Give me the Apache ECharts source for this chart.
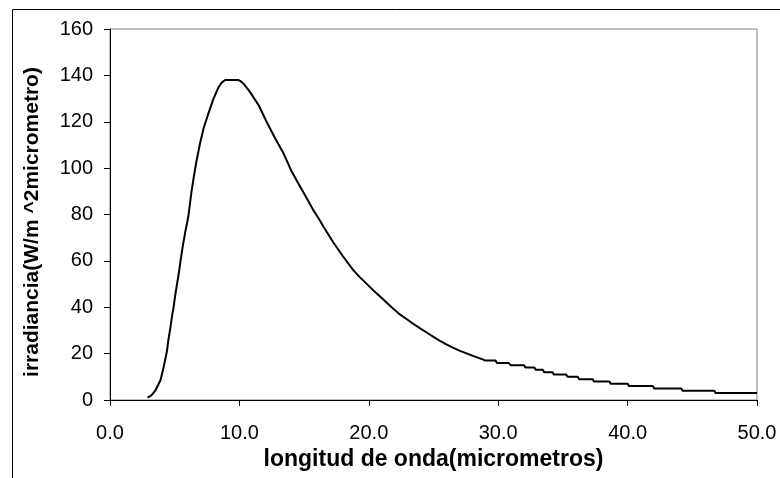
<!DOCTYPE html>
<html>
<head>
<meta charset="utf-8">
<script src="https://cdn.jsdelivr.net/npm/echarts@6/dist/echarts.min.js"></script>
<style>
  html, body { margin: 0; padding: 0; background: #fff; }
  #chart { width: 780px; height: 478px; }
</style>
</head>
<body>
<div id="chart"></div>
<script>
// Wavelength (micrometres) and spectral irradiance (W/m^2 per micrometre)
var wavelength = [
  2.9, 3.2, 3.5, 3.9, 4.1, 4.25, 4.4, 4.5, 4.65, 4.8, 4.9, 5.05, 5.15, 5.3, 5.45, 5.6, 5.8,
  6.05, 6.3, 6.5, 6.65, 6.95, 7.25, 7.6, 8.0, 8.4, 8.65, 8.9, 9.9, 10.1, 10.3, 10.8, 11.5, 12.1, 12.75,
  13.4, 14.0, 14.7, 15.3, 15.7, 16.1, 16.5, 17.3, 18.0, 18.8, 19.3, 19.8, 20.4, 21.0, 21.7,
  22.4, 23.0, 23.4, 24.0, 24.5, 25.0, 25.5, 26.0, 26.5, 27.0, 27.6, 28.2, 28.8,
  29.0, 29.8, 29.9, 30.8, 30.95, 32.0, 32.1, 32.8, 32.9, 33.45, 33.55, 34.2, 34.3,
  35.25, 35.35, 36.15, 36.25, 37.3, 37.4, 38.6, 38.7, 40.0, 40.1, 41.95, 42.05,
  44.15, 44.25, 46.7, 46.8, 50.0
];
var irradiance = [
  1, 2, 4, 8.5, 13, 17, 21, 25.5, 30.5, 36.5, 39.5, 45.5, 49, 54, 60, 65.5, 72,
  79, 90, 97, 102, 110.5, 117.5, 123.5, 130, 135, 137, 138, 138, 137.5, 136.5, 133, 127, 120, 113,
  106.5, 99, 92, 86, 82, 78.5, 74.7, 67.6, 62, 56, 53, 50.3, 47, 44, 40.3,
  36.9, 34.6, 33, 30.8, 29, 27.2, 25.5, 24, 22.6, 21.3, 20, 18.7, 17.5,
  17, 17, 16, 16, 15, 15, 14, 14, 13, 13, 12, 12, 11,
  11, 10, 10, 9, 9, 8, 8, 7, 7, 6, 6, 5,
  5, 4, 4, 3, 3
];

var xTitle = 'longitud de onda(micrometros)';
var yTitle = 'irradiancia(W/m ^2micrometro)';

var points = wavelength.map(function (w, i) { return [w, irradiance[i]]; });

var chart = echarts.init(document.getElementById('chart'), null, { renderer: 'canvas' });
var font = 'Arial, "Liberation Sans", sans-serif';

chart.setOption({
  animation: false,
  backgroundColor: '#fff',
  graphic: [{
    type: 'rect',
    shape: { x: 12.5, y: 9.5, width: 800, height: 500 },
    style: { fill: 'none', stroke: '#000', lineWidth: 1 },
    silent: true,
    z: -1
  }, {
    type: 'text',
    x: 32, y: 222,
    rotation: Math.PI / 2,
    style: {
      text: yTitle, fill: '#000',
      font: 'bold 21px Arial, "Liberation Sans", sans-serif',
      align: 'center', verticalAlign: 'middle'
    },
    silent: true
  }],
  grid: {
    left: 110, right: 23, top: 29, bottom: 78,
    show: true, borderColor: '#808080', borderWidth: 1, backgroundColor: '#fff'
  },
  xAxis: {
    type: 'value', min: 0, max: 50, interval: 10,
    name: xTitle, nameLocation: 'middle', nameGap: 39,
    nameTextStyle: { fontFamily: font, fontSize: 23, fontWeight: 'bold', color: '#000' },
    axisLine: { show: true, lineStyle: { color: '#000', width: 1 } },
    axisTick: { show: true, inside: false, length: 6, lineStyle: { color: '#000' } },
    axisLabel: {
      fontFamily: font, fontSize: 20, color: '#000', margin: 23,
      formatter: function (v) { return v.toFixed(1); }
    },
    splitLine: { show: false }
  },
  yAxis: {
    type: 'value', min: 0, max: 160, interval: 20,
    axisLine: { show: true, lineStyle: { color: '#000', width: 1 } },
    axisTick: { show: true, inside: false, length: 6, lineStyle: { color: '#000' } },
    axisLabel: { fontFamily: font, fontSize: 20, color: '#000', margin: 17 },
    splitLine: { show: false }
  },
  series: [{
    type: 'line',
    data: points,
    showSymbol: false,
    smooth: false,
    lineStyle: { color: '#000', width: 2 },
    itemStyle: { color: '#000' }
  }]
});
</script>
</body>
</html>
